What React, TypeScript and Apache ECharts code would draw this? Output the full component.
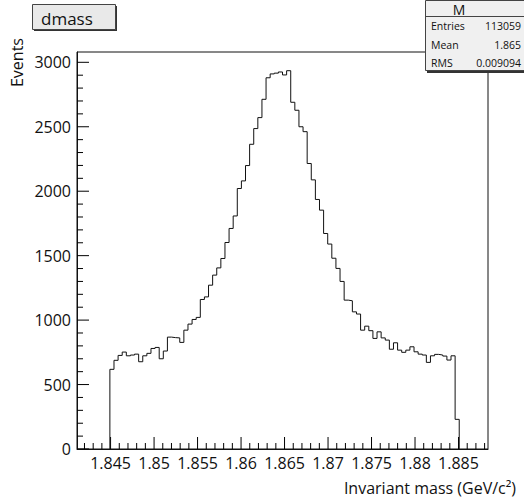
import React, { useEffect, useRef } from "react";
import * as echarts from "echarts";

// Histogram definition (ROOT-like TH1): 100 bins over the frame range
const HIST_LOW = 1.84114;
const HIST_HIGH = 1.88839;
const N_BINS = 100;
const FIRST_FILLED_BIN = 8;
// counts of the filled bins
const COUNTS = [
  618, 688, 726, 752, 723, 729, 736, 677, 723, 742,
  780, 788, 700, 760, 868, 864, 862, 827, 922, 969,
  1005, 1021, 1160, 1180, 1271, 1349, 1405, 1478, 1602, 1711,
  1808, 2021, 2080, 2199, 2364, 2486, 2571, 2713, 2880, 2910,
  2916, 2925, 2902, 2935, 2690, 2628, 2500, 2462, 2215, 2088,
  1936, 1853, 1672, 1590, 1480, 1401, 1300, 1155, 1150, 1064,
  1047, 922, 953, 918, 858, 909, 862, 845, 774, 824,
  767, 750, 767, 793, 754, 736, 729, 672, 723, 734,
  729, 721, 690, 723, 230,
];

const X_MAJOR = [1.845, 1.85, 1.855, 1.86, 1.865, 1.87, 1.875, 1.88, 1.885];
const X_MAJOR_LABELS = ["1.845", "1.85", "1.855", "1.86", "1.865", "1.87", "1.875", "1.88", "1.885"];
const X_MINOR = [
  1.842, 1.843, 1.844, 1.846, 1.847, 1.848, 1.849, 1.851, 1.852, 1.853, 1.854,
  1.856, 1.857, 1.858, 1.859, 1.861, 1.862, 1.863, 1.864, 1.866, 1.867, 1.868, 1.869,
  1.871, 1.872, 1.873, 1.874, 1.876, 1.877, 1.878, 1.879, 1.881, 1.882, 1.883, 1.884,
  1.886, 1.887, 1.888,
];
const Y_MAX = 3080;
const Y_MAJOR = [0, 500, 1000, 1500, 2000, 2500, 3000];
const Y_MINOR = [
  100, 200, 300, 400, 600, 700, 800, 900, 1100, 1200, 1300, 1400,
  1600, 1700, 1800, 1900, 2100, 2200, 2300, 2400, 2600, 2700, 2800, 2900,
];

const TITLE = "dmass";
const STATS_NAME = "M";
const STATS_KEYS = ["Entries", "Mean", "RMS"];
const STATS_VALUES = ["113059", "1.865", "0.009094"];
const X_TITLE = "Invariant mass (GeV/c²)";
const Y_TITLE = "Events";

const FONT = "'Open Sans', 'DejaVu Sans', sans-serif";
const INK = "#111";

const GRID = { left: 77, top: 52, right: 36, bottom: 50 };
const W = 524;
const H = 499;

export default function App() {
  const ref = useRef<HTMLDivElement>(null);

  useEffect(() => {
    if (!ref.current) return;
    const chart = echarts.init(ref.current, undefined, { renderer: "svg" });

    const w = (HIST_HIGH - HIST_LOW) / N_BINS;
    const x0 = HIST_LOW + FIRST_FILLED_BIN * w;
    const pts: number[][] = [[x0, 0]];
    COUNTS.forEach((c, i) => {
      const a = x0 + i * w;
      pts.push([a, c], [a + w, c]);
    });
    pts.push([x0 + COUNTS.length * w, 0]);

    const xLabel = (v: number) => {
      const idx = X_MAJOR.findIndex((m) => Math.abs(m - v) < 1e-7);
      return idx >= 0 ? X_MAJOR_LABELS[idx] : "";
    };

    // tick lengths in pixels, converted to data units of the perpendicular axis
    const plotW = W - GRID.left - GRID.right;
    const plotH = H - GRID.top - GRID.bottom;
    const yPerPx = Y_MAX / plotH;
    const xPerPx = (HIST_HIGH - HIST_LOW) / plotW;

    const tickSeries: any[] = [];
    const mk = (data: number[][]) => ({
      type: "line", data, showSymbol: false, symbol: "none", silent: true, z: 4,
      lineStyle: { color: "#000", width: 1 },
    });
    X_MAJOR.forEach((v) => tickSeries.push(mk([[v, 0], [v, 12 * yPerPx]])));
    X_MINOR.forEach((v) => tickSeries.push(mk([[v, 0], [v, 6 * yPerPx]])));
    Y_MAJOR.forEach((v) => tickSeries.push(mk([[HIST_LOW, v], [HIST_LOW + 12 * xPerPx, v]])));
    Y_MINOR.forEach((v) => tickSeries.push(mk([[HIST_LOW, v], [HIST_LOW + 6 * xPerPx, v]])));

    const statRows: any[] = [];
    STATS_KEYS.forEach((k, i) => {
      const y = 26 + i * 18.5;
      statRows.push({
        type: "text", x: 431, y, z: 32,
        style: { text: k, font: `10.5px ${FONT}`, fill: INK, textAlign: "left", textVerticalAlign: "middle" },
      });
      statRows.push({
        type: "text", x: 521, y, z: 32,
        style: { text: STATS_VALUES[i], font: `10.5px ${FONT}`, fill: INK, textAlign: "right", textVerticalAlign: "middle" },
      });
    });

    chart.setOption({
      animation: false,
      backgroundColor: "#fff",
      grid: {
        ...GRID,
        show: true, borderColor: INK, borderWidth: 1, backgroundColor: "transparent",
      },
      xAxis: {
        type: "value", min: HIST_LOW, max: HIST_HIGH, position: "bottom",
        axisLine: { show: true, lineStyle: { color: INK, width: 1 } },
        axisTick: { show: false },
        axisLabel: { show: true, customValues: X_MAJOR, formatter: xLabel, color: INK, fontSize: 16, fontFamily: FONT, margin: 6 },
        splitLine: { show: false },
      },
      yAxis: {
        type: "value", min: 0, max: Y_MAX, position: "left",
        axisLine: { show: true, lineStyle: { color: INK, width: 1 } },
        axisTick: { show: false },
        axisLabel: {
          show: true, customValues: Y_MAJOR, formatter: (v: number) => String(v),
          color: INK, fontSize: 16, fontFamily: FONT, margin: 6,
        },
        splitLine: { show: false },
      },
      series: [
        {
          type: "line", data: pts, showSymbol: false, symbol: "none",
          lineStyle: { color: INK, width: 1 }, silent: true, z: 5,
        },
        ...tickSeries,
      ],
      graphic: [
        // title box
        { type: "rect", z: 30, shape: { x: 34, y: 6, width: 83, height: 25 }, style: { fill: "#333" } },
        { type: "rect", z: 31, shape: { x: 32.5, y: 4.5, width: 83, height: 25 }, style: { fill: "#e9e9e9", stroke: "#444", lineWidth: 1 } },
        { type: "text", x: 41, y: 18, z: 32, style: { text: TITLE, font: `17px ${FONT}`, fill: INK, textAlign: "left", textVerticalAlign: "middle" } },
        // stats box
        { type: "rect", z: 30, shape: { x: 427, y: 2, width: 100, height: 71 }, style: { fill: "#333" } },
        { type: "rect", z: 31, shape: { x: 425.5, y: 0.5, width: 100, height: 70 }, style: { fill: "#f0f0f0", stroke: "#444", lineWidth: 1 } },
        { type: "line", z: 32, shape: { x1: 425, y1: 16.5, x2: 524, y2: 16.5 }, style: { stroke: "#444", lineWidth: 1 } },
        { type: "text", x: 459, y: 9, z: 32, style: { text: STATS_NAME, font: `14px ${FONT}`, fill: INK, textAlign: "center", textVerticalAlign: "middle" } },
        ...statRows,
        // axis titles
        { type: "text", x: 516, y: 488, z: 32, style: { text: X_TITLE, font: `16px ${FONT}`, fill: INK, textAlign: "right", textVerticalAlign: "middle" } },
        { type: "text", x: 17, y: 38, rotation: Math.PI / 2, z: 32, style: { text: Y_TITLE, font: `16px ${FONT}`, fill: INK, textAlign: "right", textVerticalAlign: "middle" } },
      ],
    });

    return () => chart.dispose();
  }, []);

  return (
    <div
      ref={ref}
      style={{ position: "absolute", left: 0, top: 0, width: W, height: H, background: "#fff" }}
    />
  );
}
